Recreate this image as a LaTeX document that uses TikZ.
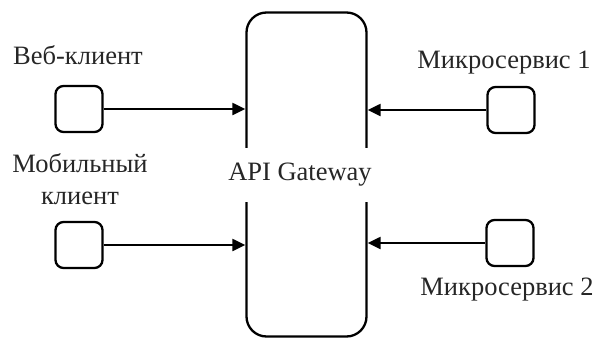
\documentclass[tikz,border=0pt]{standalone}
\usepackage{fontspec}
\setmainfont{Liberation Serif}
\usepackage{tikz}
\usetikzlibrary{positioning}
\usetikzlibrary{arrows.meta}

\tikzset{
    client/.style={draw, line width=2.3pt, rounded corners=8pt, minimum width=47pt, minimum height=46pt},
    link/.style={line width=2.2pt, -{Triangle[length=13pt, width=12pt]}},
    lbl/.style={font=\fontsize{26.5}{32}\selectfont, text=black!85, align=center, inner sep=0pt}
}

\begin{document}
\begin{tikzpicture}[x=1pt, y=-1pt]
        \useasboundingbox (0,0) rectangle (595,338);

        \node(gw) [draw, line width=2.3pt, rounded corners=20pt, minimum width=120pt, minimum height=324pt] at (306.5,174.5) {};
        \node(gwl) [lbl, fill=white, minimum height=54pt] at (300,175) {API Gateway};

        \node(web) [client] at (79,109) {};
        \node(mob) [client] at (79,245) {};
        \node(ms1) [client] at (511,110) {};
        \node(ms2) [client] at (510,243) {};

        \node(webl) [lbl] at (78,55) {Веб-клиент};
        \node(mobl) [lbl] at (80,179) {Мобильный\\клиент};
        \node(ms1l) [lbl] at (504,63) {Микросервис 1};
        \node(ms2l) [lbl] at (507,290) {Микросервис 2};

        \draw[link] (web.east) -- (web.east -| gw.west);
        \draw[link] (mob.east) -- (mob.east -| gw.west);
        \draw[link] (ms1.west) -- (ms1.west -| gw.east);
        \draw[link] (ms2.west) -- (ms2.west -| gw.east);
    \end{tikzpicture}
\end{document}
